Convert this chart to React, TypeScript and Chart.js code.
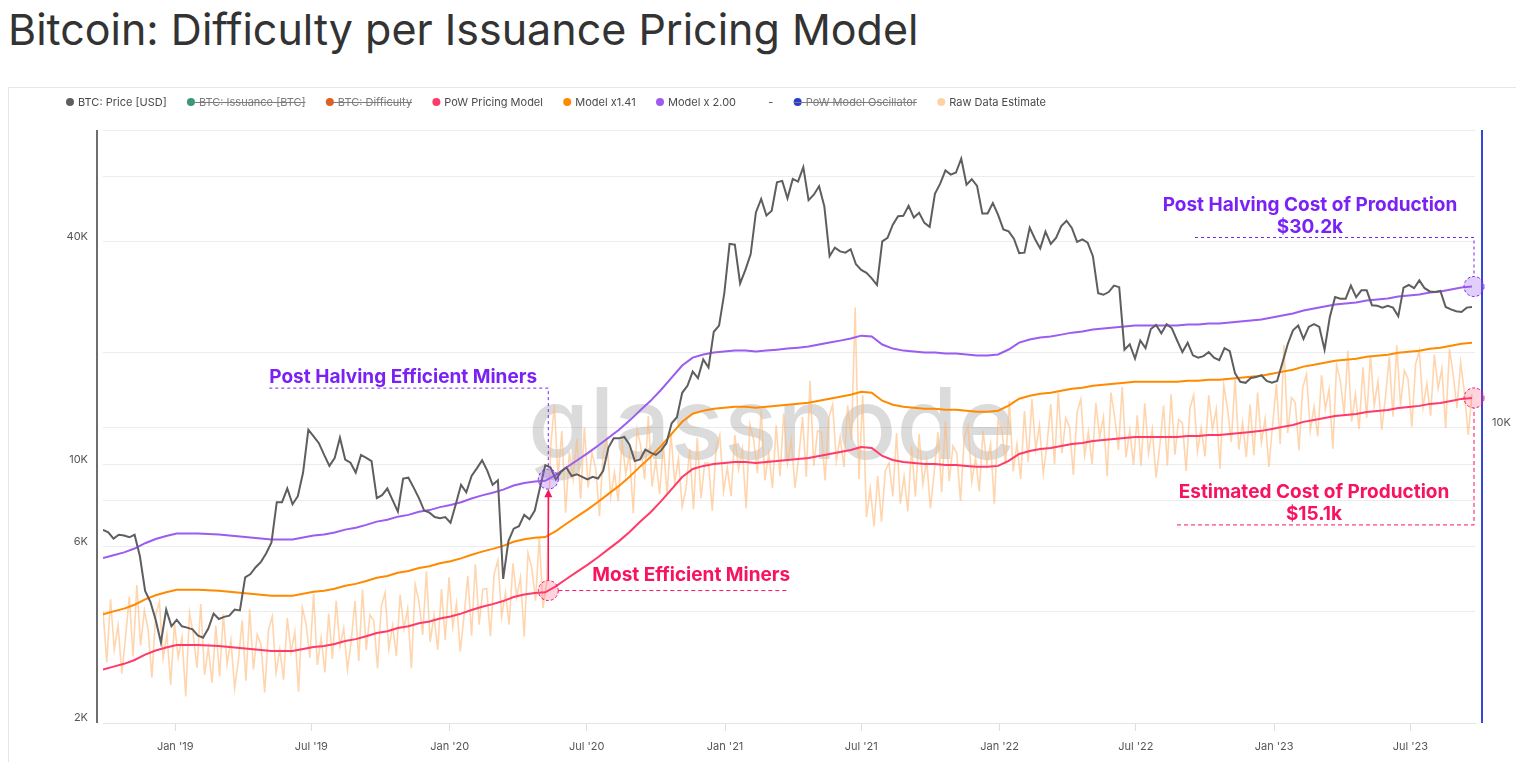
import React, { useEffect, useRef } from "react";
import { Chart, registerables } from "chart.js";

Chart.register(...registerables);

// ---------------- DATA ----------------
const TITLE = "Bitcoin: Difficulty per Issuance Pricing Model";
const WATERMARK = "glassnode";
const START_DATE = "2018-09-27";
const X_END_DATE = "2023-09-25";
const HALVING_DATE = "2020-05-11";

// weekly BTC price (USD), starting START_DATE
const PRICE_STEP_DAYS = 7;
const BTC_PRICE = [
  // 2018
  6650, 6550, 6300, 6450, 6420, 6350, 6450, 5650, 4550, 4250, 3800, 3300, 4050, 3650,
  // 2019
  3800, 3650, 3620, 3580, 3450, 3400, 3600, 3950, 3820, 3870, 3900, 4050, 4030,
  4950, 5050, 5270, 5450, 5750, 6150, 7900, 7900, 8600, 7800, 8200, 9500, 12400,
  11900, 11400, 10600, 9900, 10400, 11800, 10300, 10100, 9500, 10600, 10400, 10200, 8100,
  8250, 8600, 8000, 7450, 9150, 9200, 8650, 8100, 7500, 7400, 7200, 7150, 7200,
  // 2020
  6950, 7800, 8800, 8400, 9300, 9750, 10250, 9600, 8800, 9050, 4900, 6200, 6700,
  6800, 7300, 7100, 7500, 8650, 9950, 9800, 9100, 9550, 9800, 9300, 9400, 9250,
  9100, 9250, 9150, 9600, 11100, 11750, 11750, 11850, 11300, 10200, 10300, 10950, 10750,
  10600, 10900, 11400, 12900, 13400, 15600, 16300, 17800, 17100, 19200, 18250, 22800, 23700, 29000,
  // 2021
  39400, 39200, 30800, 33500, 36900, 47900, 52100, 47000, 48400, 57800, 58300, 52300,
  59000, 58000, 63500, 51700, 53500, 56400, 49700, 36500, 38500, 37600, 37300, 38100, 34700,
  33500, 32900, 31800, 30500, 40000, 40900, 44400, 46800, 46900, 49900, 46400, 47800, 44900, 43800,
  53800, 57300, 62200, 60600, 61400, 67000, 56900, 58900, 56500, 47600, 47600, 50800, 47200,
  // 2022
  43100, 42600, 40700, 37200, 37300, 43600, 40600, 38300, 42500, 39400, 40900, 44000, 45500,
  43500, 39900, 40500, 39700, 36500, 29000, 28700, 29200, 30400, 30100, 20400, 21100, 19300,
  21600, 20600, 23200, 23800, 22600, 23900, 23300, 21600, 20100, 21300, 19700, 19400, 19600,
  20100, 19400, 19100, 20600, 20200, 17600, 16700, 16600, 17100, 17200, 17400, 16800, 16600,
  // 2023
  16800, 18800, 21100, 23000, 23700, 21800, 23500, 23900, 23500, 20400, 25000, 28300, 28000,
  28000, 30400, 28300, 29500, 29500, 26900, 26800, 26500, 26800, 26500, 25100, 30000, 30500,
  29900, 31400, 29900, 29300, 29200, 29400, 26600, 26200, 25900, 25800, 26500, 26600,
];

// bi-weekly PoW pricing model (USD)
const MODEL_STEP_DAYS = 14;
const POW_MODEL = [
  2790, 2840, 2890, 2960, 3060, 3140, 3200, 3250, 3250, 3250,
  3240, 3230, 3210, 3190, 3170, 3150, 3130, 3130, 3130, 3170,
  3210, 3230, 3270, 3330, 3370, 3430, 3500, 3540, 3610, 3650,
  3720, 3760, 3830, 3880, 3950, 4040, 4120, 4190, 4270, 4380,
  4450, 4490, 4510, 4680, 4900, 5120, 5350, 5610, 5900, 6200,
  6560, 6990, 7420, 7950, 8570, 9240, 9710, 9900, 10020, 10080,
  10140, 10140, 10080, 10140, 10200, 10270, 10330, 10400, 10530, 10660,
  10790, 10930, 11130, 11070, 10530, 10270, 10140, 10080, 10020, 10020,
  9960, 9960, 9900, 9840, 9840, 9900, 10210, 10660, 10860, 11000,
  11070, 11200, 11340, 11420, 11560, 11630, 11700, 11780, 11850, 11850,
  11850, 11850, 11850, 11930, 11930, 12000, 12000, 12080, 12150, 12230,
  12310, 12460, 12620, 12770, 13020, 13170, 13340, 13510, 13590, 13680,
  13850, 13930, 14020, 14200, 14290, 14380, 14560, 14650, 14830, 15020,
  15110,
];
const MODEL_MID_MULT = 1.41;
const MODEL_HIGH_MULT = 2.0;

// raw data estimate (USD), every 5 days
const RAW_STEP_DAYS = 5;
const RAW_ESTIMATE = [
  4010, 2920, 4320, 3160, 3670, 2720, 3420, 4390, 3020, 4720, 3240, 4030,
  3570, 2650, 3910, 4250, 2990, 3470, 2540, 3720, 3010, 3410, 2360, 3970,
  3470, 2820, 4190, 2700, 3190, 2570, 3660, 2670, 3940, 2880, 3350, 2480,
  2950, 3780, 2600, 4060, 2790, 3470, 3260, 2420, 3570, 3880, 2730, 3160,
  2620, 3840, 3100, 3520, 2430, 4100, 3700, 3000, 4460, 2870, 3400, 2740,
  3950, 2980, 4280, 3220, 3610, 2790, 3330, 4270, 2940, 4590, 3150, 3920,
  3780, 2810, 4140, 4500, 3170, 3670, 3030, 4440, 3590, 4070, 2810, 4740,
  4260, 3460, 5130, 3310, 3910, 3150, 4600, 3350, 4950, 3630, 4210, 3120,
  3900, 5000, 3440, 5370, 3690, 4590, 4620, 3430, 5060, 5500, 3870, 4490,
  3690, 5400, 4370, 4950, 3420, 5760, 5260, 4280, 6350, 4090, 4840,
  11000, 14500, 9200, 12300, 7400, 10800, 9120, 11710, 8060, 12580, 8640, 10750,
  9770, 7250, 10700, 11630, 8180, 9490, 7950, 11640, 9410, 10670, 7370, 12420,
  11200, 9100, 13500, 8700, 10300, 8300, 11330, 8260, 12190, 8930, 10370, 7680,
  8550, 10980, 7560, 11790, 8100, 10080, 10080, 7490, 11040, 12000, 8450, 9790,
  8200, 12000, 9700, 11000, 7600, 12800, 11650, 9460, 14040, 9050, 10710, 8630,
  12740, 9290, 13720, 10040, 11660, 8640, 10450, 13420, 9240, 16800, 9900, 12320,
  12180, 9050, 13340, 14500, 10210, 11830, 9840, 14400, 11640, 26500, 9120, 15360,
  7200, 8600, 6800, 9300, 7000, 9600, 10080, 8190, 12150, 7830, 9270, 7470,
  11210, 8170, 12070, 8840, 10260, 7600, 9500, 12200, 8400, 13100, 9000, 11200,
  10710, 7960, 11730, 12750, 8980, 10400, 8450, 12360, 9990, 11330, 7830, 13180,
  12320, 10010, 14850, 9570, 11330, 9130, 13920, 10150, 14990, 10970, 12740, 9440,
  11310, 14520, 10000, 15590, 10710, 13330, 12600, 9360, 13800, 15000, 10560, 12240,
  10000, 14640, 11830, 13420, 9270, 15620, 13440, 10920, 16200, 10440, 12360, 9960,
  13570, 9890, 14610, 10700, 12420, 9200, 11210, 14400, 9910, 15460, 10620, 13220,
  12920, 9590, 14150, 15380, 10820, 12550, 10500, 15360, 12420, 14080, 9730, 16380,
  14110, 11470, 17010, 10960, 12980, 10460, 14510, 10580, 15620, 11440, 13280, 9840,
  12830, 16470, 11340, 21000, 12150, 15120, 14700, 10920, 16100, 17500, 12320, 14280,
  11890, 17400, 14070, 15950, 11020, 18560, 16800, 13650, 20250, 13050, 15450, 12450,
  18290, 13330, 19690, 14420, 16740, 12400, 15200, 19520, 13440, 20960, 14400, 17920,
  17010, 12640, 18630, 20250, 14260, 16520, 13530, 19800, 16010, 18150, 12540, 20500,
  17500, 14200, 18800, 15600, 12000, 15500,
];

const X_TICK_DATES = [
  "2019-01-01", "2019-07-01", "2020-01-01", "2020-07-01", "2021-01-01",
  "2021-07-01", "2022-01-01", "2022-07-01", "2023-01-01", "2023-07-01",
];
const X_TICK_LABELS = [
  "Jan '19", "Jul '19", "Jan '20", "Jul '20", "Jan '21",
  "Jul '21", "Jan '22", "Jul '22", "Jan '23", "Jul '23",
];
const Y_MIN = 2000;
const Y_MAX = 80000;
const Y_TICKS = [2000, 4000, 6000, 8000, 10000, 20000, 40000, 60000, 80000];
const Y_TICK_LABELS: Record<number, string> = { 2000: "2K", 6000: "6K", 10000: "10K", 40000: "40K" };
const Y2_MIN = 1590;
const Y2_MAX = 63600;
const Y2_TICKS = [10000];
const Y2_TICK_LABELS: Record<number, string> = { 10000: "10K" };

const LEGEND_ITEMS = [
  { label: "BTC: Price [USD]", color: "#5e5e5e", hidden: false },
  { label: "BTC: Issuance [BTC]", color: "#2f9e72", hidden: true },
  { label: "BTC: Difficulty", color: "#ee5b13", hidden: true },
  { label: "PoW Pricing Model", color: "#ff3a6b", hidden: false },
  { label: "Model x1.41", color: "#ff8a00", hidden: false },
  { label: "Model x 2.00", color: "#9b5cf0", hidden: false },
  { label: "-", color: "rgba(0,0,0,0)", hidden: false },
  { label: "PoW Model Oscillator", color: "#2a3bd0", hidden: true },
  { label: "Raw Data Estimate", color: "#ffd2a6", hidden: false },
];

const ANN_PURPLE = "#7a22f5";
const ANN_PINK = "#f7135d";

// ---------------- HELPERS ----------------
const FONT = "Inter";
const dayOf = (iso: string) => Math.round((Date.parse(iso) - Date.parse(START_DATE)) / 86400000);
const toPoints = (vals: number[], step: number) => vals.map((v, i) => ({ x: i * step, y: v }));
const valueAt = (vals: number[], step: number, day: number) => {
  const f = day / step;
  const i = Math.min(Math.floor(f), vals.length - 2);
  const t = f - i;
  return vals[i] * (1 - t) + vals[i + 1] * t;
};

function drawCircle(ctx: CanvasRenderingContext2D, x: number, y: number, fill: string, stroke: string) {
  ctx.save();
  ctx.beginPath();
  ctx.arc(x, y, 10, 0, Math.PI * 2);
  ctx.fillStyle = fill;
  ctx.fill();
  ctx.setLineDash([3, 2]);
  ctx.lineWidth = 1;
  ctx.strokeStyle = stroke;
  ctx.stroke();
  ctx.restore();
}

function drawPath(ctx: CanvasRenderingContext2D, pts: number[][], color: string, dash: number[]) {
  ctx.save();
  ctx.beginPath();
  ctx.setLineDash(dash);
  ctx.lineWidth = 1;
  ctx.strokeStyle = color;
  pts.forEach((p, i) => (i === 0 ? ctx.moveTo(p[0], p[1]) : ctx.lineTo(p[0], p[1])));
  ctx.stroke();
  ctx.restore();
}

const overlayPlugin = {
  id: "overlay",
  beforeDatasetsDraw(chart: any) {
    const { ctx, chartArea: a } = chart;
    ctx.save();
    ctx.font = `500 100px ${FONT}`;
    const w = ctx.measureText(WATERMARK).width;
    const size = (100 * 488) / w;
    ctx.font = `500 ${size}px ${FONT}`;
    ctx.fillStyle = "rgba(0,0,0,0.14)";
    ctx.textAlign = "center";
    ctx.textBaseline = "alphabetic";
    ctx.fillText(WATERMARK, (a.left + a.right) / 2 - 17, (a.top + a.bottom) / 2 + 32);
    ctx.restore();
  },
  afterDraw(chart: any) {
    const { ctx, chartArea: a } = chart;
    const xs = chart.scales.x;
    const ys = chart.scales.y;

    // offset axis lines
    ctx.save();
    ctx.lineWidth = 2;
    ctx.strokeStyle = "#6e6e6e";
    ctx.beginPath();
    ctx.moveTo(a.left - 6, a.top);
    ctx.lineTo(a.left - 6, a.bottom);
    ctx.stroke();
    ctx.strokeStyle = "#3447dc";
    ctx.beginPath();
    ctx.moveTo(a.right + 7, a.top);
    ctx.lineTo(a.right + 7, a.bottom);
    ctx.stroke();
    ctx.restore();

    // annotations
    const hDay = dayOf(HALVING_DATE);
    const powH = valueAt(POW_MODEL, MODEL_STEP_DAYS, hDay);
    const hx = xs.getPixelForValue(hDay);
    const A1 = { x: hx, y: ys.getPixelForValue(powH * MODEL_HIGH_MULT) };
    const A2 = { x: hx, y: ys.getPixelForValue(powH) };
    const lastDay = (POW_MODEL.length - 1) * MODEL_STEP_DAYS;
    const powL = POW_MODEL[POW_MODEL.length - 1];
    const lx = xs.getPixelForValue(lastDay) + 2;
    const A3 = { x: lx, y: ys.getPixelForValue(powL * MODEL_HIGH_MULT) };
    const A4 = { x: lx, y: ys.getPixelForValue(powL) };

    drawPath(ctx, [[A1.x - 279, A1.y - 91], [A1.x, A1.y - 91], [A1.x, A1.y - 10]], ANN_PURPLE, [3, 3]);
    drawPath(ctx, [[A2.x + 10, A2.y], [A2.x + 241, A2.y]], ANN_PINK, [4, 3]);
    drawPath(ctx, [[A3.x - 279, A3.y - 49], [A3.x, A3.y - 49], [A3.x, A3.y - 10]], ANN_PURPLE, [3, 3]);
    drawPath(ctx, [[A4.x - 297, A4.y + 127], [A4.x, A4.y + 127], [A4.x, A4.y + 10]], ANN_PINK, [4, 3]);

    // arrow
    ctx.save();
    ctx.strokeStyle = ANN_PINK;
    ctx.fillStyle = ANN_PINK;
    ctx.lineWidth = 1.5;
    ctx.beginPath();
    ctx.moveTo(A2.x, A2.y - 10);
    ctx.lineTo(A1.x, A1.y + 16);
    ctx.stroke();
    ctx.beginPath();
    ctx.moveTo(A1.x, A1.y + 10);
    ctx.lineTo(A1.x - 4, A1.y + 18);
    ctx.lineTo(A1.x + 4, A1.y + 18);
    ctx.closePath();
    ctx.fill();
    ctx.restore();

    drawCircle(ctx, A1.x, A1.y, "rgba(155,92,240,0.3)", ANN_PURPLE);
    drawCircle(ctx, A2.x, A2.y, "rgba(255,58,107,0.22)", ANN_PINK);
    drawCircle(ctx, A3.x, A3.y, "rgba(155,92,240,0.3)", ANN_PURPLE);
    drawCircle(ctx, A4.x, A4.y, "rgba(255,58,107,0.22)", ANN_PINK);

    ctx.save();
    ctx.font = `700 19px ${FONT}`;
    ctx.textBaseline = "middle";
    ctx.fillStyle = ANN_PURPLE;
    ctx.textAlign = "left";
    ctx.fillText("Post Halving Efficient Miners", A1.x - 279, A1.y - 102);
    ctx.textAlign = "center";
    ctx.fillText("Post Halving Cost of Production", A3.x - 164, A3.y - 81);
    ctx.fillText(`$${(powL * MODEL_HIGH_MULT / 1000).toFixed(1)}k`, A3.x - 164, A3.y - 59);
    ctx.fillStyle = ANN_PINK;
    ctx.textAlign = "left";
    ctx.fillText("Most Efficient Miners", A2.x + 44, A2.y - 15);
    ctx.textAlign = "center";
    ctx.fillText("Estimated Cost of Production", A4.x - 160, A4.y + 94);
    ctx.fillText(`$${(powL / 1000).toFixed(1)}k`, A4.x - 160, A4.y + 116);
    ctx.restore();

    // legend
    ctx.save();
    ctx.font = `400 11px ${FONT}`;
    ctx.textBaseline = "middle";
    ctx.textAlign = "left";
    let x = 57;
    const ly = 14;
    LEGEND_ITEMS.forEach((it) => {
      const tw = ctx.measureText(it.label).width;
      ctx.beginPath();
      ctx.arc(x + 4, ly, 4, 0, Math.PI * 2);
      ctx.fillStyle = it.color;
      ctx.fill();
      ctx.fillStyle = it.hidden ? "#7c7c7c" : "#4a4a4a";
      ctx.fillText(it.label, x + 12, ly + 0.5);
      if (it.hidden) {
        ctx.strokeStyle = "#7c7c7c";
        ctx.lineWidth = 1;
        ctx.beginPath();
        ctx.moveTo(x, ly + 0.5);
        ctx.lineTo(x + 12 + tw, ly + 0.5);
        ctx.stroke();
      }
      x = x + 12 + tw + 20.3;
    });
    ctx.restore();
  },
};

export default function App() {
  const canvasRef = useRef<HTMLCanvasElement>(null);
  useEffect(() => {
    document.documentElement.style.overflow = "hidden";
    const canvas = canvasRef.current as HTMLCanvasElement;
    const pow = toPoints(POW_MODEL, MODEL_STEP_DAYS);
    const chart = new Chart(canvas, {
      type: "line",
      data: {
        datasets: [
          { label: "BTC: Price [USD]", data: toPoints(BTC_PRICE, PRICE_STEP_DAYS), borderColor: "#5e5e5e", borderWidth: 2, yAxisID: "y" },
          { label: "Model x 2.00", data: pow.map((p) => ({ x: p.x, y: p.y * MODEL_HIGH_MULT })), borderColor: "#9b5cf0", borderWidth: 2, yAxisID: "y" },
          { label: "Model x1.41", data: pow.map((p) => ({ x: p.x, y: p.y * MODEL_MID_MULT })), borderColor: "#ff8a00", borderWidth: 2, yAxisID: "y" },
          { label: "PoW Pricing Model", data: pow, borderColor: "#ff3a6b", borderWidth: 2, yAxisID: "y" },
          { label: "Raw Data Estimate", data: toPoints(RAW_ESTIMATE, RAW_STEP_DAYS), borderColor: "rgba(255,185,120,0.6)", borderWidth: 1.6, yAxisID: "y" },
        ] as any,
      },
      options: {
        responsive: false,
        animation: false,
        devicePixelRatio: 1,
        layout: { padding: { top: 42, left: 0, right: 0, bottom: 0 } },
        elements: { point: { radius: 0 }, line: { tension: 0 } },
        plugins: { legend: { display: false }, tooltip: { enabled: false } },
        scales: {
          x: {
            type: "linear",
            min: 0,
            max: dayOf(X_END_DATE),
            afterBuildTicks: (s: any) => {
              s.ticks = X_TICK_DATES.map((d) => ({ value: dayOf(d) }));
            },
            afterFit: (s: any) => {
              s.height = 39;
            },
            grid: { drawOnChartArea: false, drawTicks: true, tickLength: 8, color: "#dedede" },
            border: { display: true, color: "#e4e4e4" },
            ticks: {
              autoSkip: false,
              maxRotation: 0,
              padding: 9,
              color: "#555",
              font: { family: FONT, size: 11 },
              callback: (_v: any, i: number) => X_TICK_LABELS[i],
            },
          },
          y: {
            type: "logarithmic",
            position: "left",
            min: Y_MIN,
            max: Y_MAX,
            afterBuildTicks: (s: any) => {
              s.ticks = Y_TICKS.map((v) => ({ value: v }));
            },
            afterFit: (s: any) => {
              s.width = 94;
            },
            grid: { color: "#ececec", drawTicks: false },
            border: { display: false },
            ticks: {
              autoSkip: false,
              padding: 15,
              labelOffset: -5,
              color: "#555",
              font: { family: FONT, size: 11 },
              callback: (v: any) => Y_TICK_LABELS[Number(v)] ?? "",
            },
          },
          y2: {
            type: "logarithmic",
            position: "right",
            min: Y2_MIN,
            max: Y2_MAX,
            afterBuildTicks: (s: any) => {
              s.ticks = Y2_TICKS.map((v) => ({ value: v }));
            },
            afterFit: (s: any) => {
              s.width = 49;
            },
            grid: { color: "#ececec", drawTicks: false },
            border: { display: false },
            ticks: {
              autoSkip: false,
              padding: 17,
              labelOffset: -5,
              color: "#555",
              font: { family: FONT, size: 11 },
              callback: (v: any) => Y2_TICK_LABELS[Number(v)] ?? "",
            },
          },
        },
      } as any,
      plugins: [overlayPlugin],
    });
    return () => chart.destroy();
  }, []);

  return (
    <div style={{ position: "relative", width: 1508, height: 754, fontFamily: "Inter, sans-serif" }}>
      <div
        style={{
          position: "absolute",
          left: 0,
          top: -5,
          fontSize: 43,
          lineHeight: "52px",
          color: "#333",
          whiteSpace: "nowrap",
        }}
      >
        {TITLE}
      </div>
      <div
        style={{
          position: "absolute",
          left: 0,
          top: 79,
          width: 1540,
          height: 700,
          border: "1px solid #e6e6e6",
          boxSizing: "border-box",
        }}
      >
        <canvas ref={canvasRef} width={1515} height={674} style={{ display: "block", width: 1515, height: 674 }} />
      </div>
    </div>
  );
}
